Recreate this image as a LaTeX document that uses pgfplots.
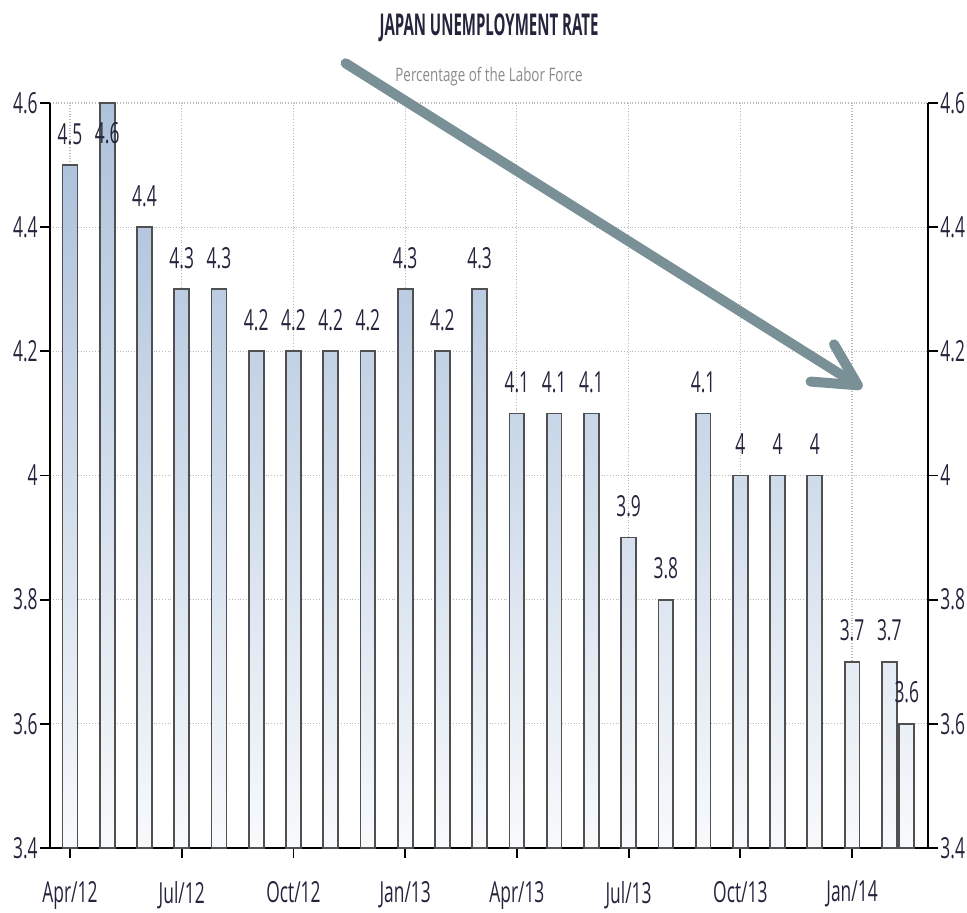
\documentclass[border=0pt]{standalone}
\usepackage{fontspec}
\setmainfont{Open Sans}[FakeStretch=0.6]
\newfontfamily\titlefont{Open Sans}[FakeStretch=0.5]
\newfontfamily\subfont{Open Sans}[FakeStretch=0.72]
\usepackage{pgfplots}
\usepackage{pgfplotstable}
\pgfplotsset{compat=1.18}
\usetikzlibrary{arrows.meta}
\definecolor{barTop}{HTML}{AEC2DC}
\definecolor{barBot}{HTML}{F8FAFC}
\definecolor{barEdge}{HTML}{505050}
\definecolor{txt}{HTML}{24243C}
\definecolor{arrowc}{HTML}{7A9097}
\definecolor{subc}{HTML}{8A8A8A}

\pgfplotstableread{
x y
0 4.5
2 4.4
3 4.3
4 4.3
5 4.2
6 4.2
7 4.2
8 4.2
9 4.3
10 4.2
11 4.3
12 4.1
13 4.1
14 4.1
15 3.9
16 3.8
17 4.1
18 4.0
19 4.0
20 4.0
21 3.7
22 3.7
22.47 3.6
}\datamain
\pgfplotstableread{
x y
1 4.6
}\datapeak

\begin{document}
\begin{tikzpicture}
\useasboundingbox (-25pt,-32.5pt) rectangle (458.5pt,424pt);
\pgfplotsset{
  common/.style={
    at={(0,0)}, anchor=south west,
    scale only axis, width=439pt, height=372.5pt,
    xmin=-0.537, xmax=23.04, ymin=3.4, ymax=4.6,
    axis line style={-, black, line width=0.9pt},
    tick style={black, line width=0.9pt},
    major tick length=5pt,
    tick align=outside,
    ytick={3.4,3.6,3.8,4,4.2,4.4,4.6},
    yticklabels={3.4,3.6,3.8,4,4.2,4.4,4.6},
    ticklabel style={font=\fontsize{14.5}{16}\selectfont, text=txt},
    yticklabel style={inner sep=1pt},
    /pgf/number format/assume math mode=true,
  }
}
\begin{axis}[
  common,
  clip=false,
  axis x line*=bottom, axis y line*=left,
  xtick={0,3,...,21},
  xticklabels={Apr/12,Jul/12,Oct/12,Jan/13,Apr/13,Jul/13,Oct/13,Jan/14},
  xticklabel style={yshift=-8pt},
  grid=major,
  grid style={densely dotted, gray!55, line width=0.6pt},
]
\addplot[ybar, bar width=0.40, bar shift=0pt, draw=barEdge, line width=0.9pt,
  top color=barTop, bottom color=barBot,
  nodes near coords,
  every node near coord/.append style={font=\fontsize{14.5}{16}\selectfont, text=txt, yshift=6.5pt}]
  table[x=x, y=y] {\datamain};
\addplot[ybar, bar width=0.40, bar shift=0pt, draw=barEdge, line width=0.9pt,
  top color=barTop, bottom color=barBot,
  nodes near coords,
  every node near coord/.append style={font=\fontsize{14.5}{16}\selectfont, text=txt, anchor=north, yshift=-6pt}]
  table[x=x, y=y] {\datapeak};
\draw[arrowc, line width=5pt, line cap=round,
  -{Straight Barb[round, length=21pt, width=22pt]}]
  (axis cs:7.4,4.664) -- (axis cs:21.27,4.141);
\node[font=\titlefont\bfseries\fontsize{15}{18}\selectfont, text=txt]
  at (rel axis cs:0.5,1) [yshift=37.5pt] {JAPAN UNEMPLOYMENT RATE};
\node[font=\subfont\fontsize{9.3}{11}\selectfont, text=subc]
  at (rel axis cs:0.5,1) [yshift=13pt] {Percentage of the Labor Force};
\end{axis}
\begin{axis}[
  common,
  axis x line=none, axis y line*=right,
]
\addplot[draw=none] coordinates {(0,3.4)};
\end{axis}
\end{tikzpicture}
\end{document}
